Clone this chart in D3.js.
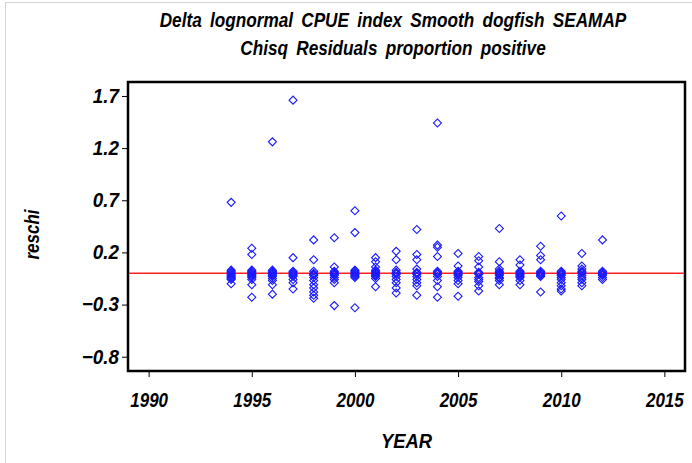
<!DOCTYPE html>
<html>
<head>
<meta charset="utf-8">
<script src="https://cdn.jsdelivr.net/npm/d3@7"></script>
<style>
  html, body { margin: 0; padding: 0; background: #fff; }
  svg { display: block; }
  text { font-family: "Liberation Sans", Arial, Helvetica, sans-serif; font-weight: bold; font-style: italic; fill: #000; }
</style>
</head>
<body>
<script>
// ---- data ----
const titleLines = ["Delta lognormal CPUE index Smooth dogfish SEAMAP", "Chisq Residuals proportion positive"];
const xLabel = "YEAR";
const yLabel = "reschi";
const xTicks = [1990, 1995, 2000, 2005, 2010, 2015];
const yTicks = [1.7, 1.2, 0.7, 0.2, -0.3, -0.8];
const refLine = 0;

const yr1994 = [0.68, 0.03, 0.02, 0.01, 0.0, -0.01, -0.02, -0.03, -0.04, -0.05, -0.06, -0.10];
const yr1995 = [0.24, 0.18, 0.03, 0.02, 0.01, 0.0, -0.01, -0.02, -0.03, -0.04, -0.06, -0.11, -0.23];
const yr1996 = [1.26, 0.03, 0.02, 0.01, 0.0, -0.01, -0.02, -0.03, -0.05, -0.07, -0.11, -0.20];
const yr1997 = [1.66, 0.15, 0.02, 0.01, 0.0, -0.01, -0.02, -0.03, -0.06, -0.09, -0.15];
const yr1998 = [0.32, 0.13, 0.02, 0.0, -0.01, -0.02, -0.04, -0.07, -0.11, -0.14, -0.18, -0.21, -0.24];
const yr1999 = [0.34, 0.06, 0.02, 0.01, 0.0, -0.01, -0.02, -0.04, -0.06, -0.09, -0.31];
const yr2000 = [0.60, 0.39, 0.03, 0.02, 0.01, 0.0, -0.01, -0.02, -0.03, -0.04, -0.33];
const yr2001 = [0.15, 0.11, 0.06, 0.03, 0.02, 0.01, 0.0, -0.01, -0.02, -0.03, -0.05, -0.13];
const yr2002 = [0.21, 0.13, 0.03, 0.01, 0.0, -0.01, -0.03, -0.06, -0.09, -0.14, -0.19];
const yr2003 = [0.42, 0.18, 0.13, 0.04, 0.01, 0.0, -0.01, -0.03, -0.06, -0.09, -0.12, -0.21];
const yr2004 = [1.44, 0.27, 0.25, 0.16, 0.02, 0.01, 0.0, -0.01, -0.03, -0.07, -0.13, -0.23];
const yr2005 = [0.19, 0.07, 0.02, 0.01, 0.0, -0.01, -0.02, -0.04, -0.07, -0.10, -0.22];
const yr2006 = [0.16, 0.12, 0.06, 0.01, 0.0, -0.01, -0.04, -0.06, -0.08, -0.12, -0.17];
const yr2007 = [0.43, 0.11, 0.04, 0.02, 0.01, 0.0, -0.01, -0.02, -0.04, -0.05, -0.07, -0.11];
const yr2008 = [0.13, 0.08, 0.02, 0.01, 0.0, -0.01, -0.02, -0.03, -0.04, -0.07, -0.11];
const yr2009 = [0.26, 0.17, 0.13, 0.02, 0.01, 0.0, -0.01, -0.02, -0.03, -0.18];
const yr2010 = [0.55, 0.02, 0.01, 0.0, -0.01, -0.02, -0.04, -0.06, -0.09, -0.12, -0.15, -0.17];
const yr2011 = [0.19, 0.07, 0.04, 0.02, 0.01, 0.0, -0.02, -0.04, -0.06, -0.09, -0.12];
const yr2012 = [0.32, 0.02, 0.01, 0.0, -0.01, -0.02, -0.04, -0.06];

const years = [1994,1995,1996,1997,1998,1999,2000,2001,2002,2003,2004,2005,2006,2007,2008,2009,2010,2011,2012];
const reschiByYear = [yr1994,yr1995,yr1996,yr1997,yr1998,yr1999,yr2000,yr2001,yr2002,yr2003,yr2004,yr2005,yr2006,yr2007,yr2008,yr2009,yr2010,yr2011,yr2012];

const points = [];
years.forEach((yv, i) => reschiByYear[i].forEach(v => points.push({YEAR: yv, reschi: v})));

// ---- layout ----
const W = 692, H = 463;
const plot = {left: 128, top: 82, right: 685, bottom: 371};

const svg = d3.select("body").append("svg").attr("width", W).attr("height", H);

// condense text horizontally (narrow SAS-style font)
function condense(sel, factor) {
  sel.each(function () {
    const w = this.getComputedTextLength();
    d3.select(this).attr("textLength", w * factor).attr("lengthAdjust", "spacingAndGlyphs");
  });
}

// outer light border
svg.append("rect").attr("x", 5.5).attr("y", 2.5).attr("width", W - 5).attr("height", H - 2)
  .attr("fill", "none").attr("stroke", "#d4d4d4").attr("stroke-width", 1);

const x = d3.scaleLinear().domain([1989, 2016]).range([plot.left, plot.right]);
const y = d3.scaleLinear().domain([-0.937, 1.834]).range([plot.bottom, plot.top]);

// title (horizontally condensed via group transform)
svg.append("g").attr("transform", "translate(393,0) scale(0.86,1)")
  .selectAll("text").data(titleLines).join("text")
  .attr("x", 0).attr("y", (d, i) => 27 + i * 28)
  .attr("text-anchor", "middle").attr("font-size", 20)
  .style("word-spacing", "4px").text(d => d);

// axes
const fmtY = d => (d < 0 ? "\u2212" : "") + Math.abs(d).toFixed(1);
const yAxis = d3.axisLeft(y).tickValues(yTicks).tickFormat(fmtY).tickSize(6).tickPadding(3);
const xAxis = d3.axisBottom(x).tickValues(xTicks).tickFormat(d3.format("d")).tickSize(6).tickPadding(16);

const gy = svg.append("g").attr("transform", `translate(${plot.left},0)`).call(yAxis);
const gx = svg.append("g").attr("transform", `translate(0,${plot.bottom})`).call(xAxis);
[gy, gx].forEach(g => {
  g.select(".domain").remove();
  g.selectAll(".tick line").attr("stroke", "#000").attr("stroke-width", 1);
  g.selectAll(".tick text").attr("font-size", 20).attr("fill", "#000")
    .style("font-family", "'Liberation Sans', Arial, sans-serif")
    .style("font-weight", "bold").style("font-style", "italic");
});
condense(gy.selectAll(".tick text"), 0.94);
condense(gx.selectAll(".tick text"), 0.85);

// frame
svg.append("rect").attr("x", plot.left).attr("y", plot.top)
  .attr("width", plot.right - plot.left).attr("height", plot.bottom - plot.top)
  .attr("fill", "none").attr("stroke", "#000").attr("stroke-width", 2.5);

// reference line
svg.append("line").attr("x1", plot.left + 1).attr("x2", plot.right - 1)
  .attr("y1", y(refLine)).attr("y2", y(refLine))
  .attr("stroke", "#ff2020").attr("stroke-width", 1.5);

// markers
const diamond = d3.symbol().type(d3.symbolSquare).size(32);
svg.append("g").selectAll("path").data(points).join("path")
  .attr("d", diamond)
  .attr("transform", d => `translate(${x(d.YEAR)},${y(d.reschi)}) rotate(45)`)
  .attr("fill", "none").attr("stroke", "#1a1aff").attr("stroke-width", 1.1);

// axis labels
const xl = svg.append("text").attr("x", (plot.left + plot.right) / 2).attr("y", 448)
  .attr("text-anchor", "middle").attr("font-size", 20).text(xLabel);
condense(xl, 0.92);
const yl = svg.append("text").attr("transform", `translate(39,${(plot.top + plot.bottom) / 2 + 8}) rotate(-90)`)
  .attr("text-anchor", "middle").attr("font-size", 20).text(yLabel);
condense(yl, 0.85);
</script>
</body>
</html>
